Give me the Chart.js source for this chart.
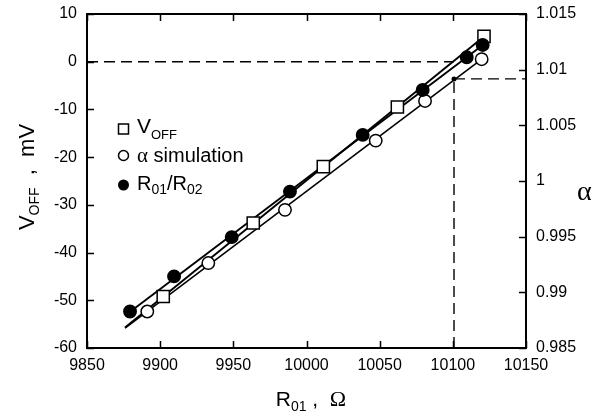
<!DOCTYPE html>
<html>
<head>
<meta charset="utf-8">
<script src="https://cdn.jsdelivr.net/npm/chart.js@4/dist/chart.umd.min.js"></script>
<style>
html,body{margin:0;padding:0;background:#fff;}
#wrap{width:613px;height:414px;position:relative;}
</style>
</head>
<body>
<div id="wrap"><canvas id="c" width="613" height="414"></canvas></div>
<script>
// ---- data ----
const xTicks = [9850, 9900, 9950, 10000, 10050, 10100, 10150];
const vTicks = [10, 0, -10, -20, -30, -40, -50, -60];
const aTicks = [1.015, 1.01, 1.005, 1, 0.995, 0.99, 0.985];

const vOffR = [9902.1, 9963.6, 10011.5, 10062.1, 10121.3];
const vOff = [-49.2, -33.8, -22.0, -9.5, 5.3];

const simR = [9891.2, 9932.9, 9985.3, 10047.3, 10081.0, 10119.7];
const simAlpha = [0.98828, 0.99263, 0.99741, 1.00363, 1.00719, 1.01094];

const ratioR = [9879.4, 9909.5, 9948.9, 9988.7, 10038.4, 10079.4, 10109.5, 10120.4];
const ratioAlpha = [0.98828, 0.99143, 0.99496, 0.99905, 1.00414, 1.00818, 1.01111, 1.01222];

// fitted straight lines (end points)
const vOffFitR = [9876, 10123];
const vOffFit = [-55.7, 5.7];
const simFitR = [9876, 10120];
const simFitAlpha = [0.98678, 1.01096];
const ratioFitR = [9877, 10123];
const ratioFitAlpha = [0.98800, 1.01247];

// construction (dashed) lines
const zeroLineR = [9850, 10100.5];
const zeroLineV = [0, 0];
const crossR = [10100.8, 10100.8];
const crossAlpha = [0.985, 1.00917];
const rightLineR = [10100.8, 10150];
const rightLineAlpha = [1.00917, 1.00917];
const markR = [10100.8];
const markAlpha = [1.00917];

const pts = (xs, ys) => xs.map((x, i) => ({x: x, y: ys[i]}));

const SANS = '"Liberation Sans", Arial, sans-serif';
const SERIF = '"Liberation Serif", "Times New Roman", serif';

const markerBase = {showLine:false, borderColor:'#000', borderWidth:1.5, pointHoverRadius:6};
const lineBase = {showLine:true, borderColor:'#000', pointRadius:0, pointHoverRadius:0, fill:false, tension:0};

const datasets = [
  Object.assign({}, markerBase, {label:'R01/R02', data:pts(ratioR, ratioAlpha), yAxisID:'y1', pointStyle:'circle', pointRadius:6.2, backgroundColor:'#000'}),
  Object.assign({}, markerBase, {label:'α simulation', data:pts(simR, simAlpha), yAxisID:'y1', pointStyle:'circle', pointRadius:6.2, backgroundColor:'#fff'}),
  Object.assign({}, markerBase, {label:'VOFF', data:pts(vOffR, vOff), yAxisID:'y', pointStyle:'rect', pointRadius:8.6, backgroundColor:'#fff'}),
  Object.assign({}, markerBase, {label:'mark', data:pts(markR, markAlpha), yAxisID:'y1', pointStyle:'circle', pointRadius:2.5, borderWidth:0, backgroundColor:'#000'}),
  Object.assign({}, lineBase, {label:'fitR', data:pts(ratioFitR, ratioFitAlpha), yAxisID:'y1', borderWidth:1.9}),
  Object.assign({}, lineBase, {label:'fitS', data:pts(simFitR, simFitAlpha), yAxisID:'y1', borderWidth:1.6}),
  Object.assign({}, lineBase, {label:'fitV', data:pts(vOffFitR, vOffFit), yAxisID:'y', borderWidth:1.9}),
  Object.assign({}, lineBase, {label:'d1', data:pts(zeroLineR, zeroLineV), yAxisID:'y', borderWidth:1.4, borderDash:[11,6]}),
  Object.assign({}, lineBase, {label:'d2', data:pts(crossR, crossAlpha), yAxisID:'y1', borderWidth:1.4, borderDash:[11,6]}),
  Object.assign({}, lineBase, {label:'d3', data:pts(rightLineR, rightLineAlpha), yAxisID:'y1', borderWidth:1.4, borderDash:[11,6]})
];

function drawSub(ctx, parts, x, y) {
  let cx = x;
  parts.forEach(p => {
    ctx.font = p[1] + 'px ' + (p[3] || SANS);
    ctx.fillText(p[0], cx, y + p[2]);
    cx += ctx.measureText(p[0]).width;
  });
  return cx - x;
}
function measureParts(ctx, parts) {
  let w = 0;
  parts.forEach(p => { ctx.font = p[1] + 'px ' + (p[3] || SANS); w += ctx.measureText(p[0]).width; });
  return w;
}

const decor = {
  id: 'decor',
  afterDraw(chart) {
    const ctx = chart.ctx;
    const a = chart.chartArea;
    const xs = chart.scales.x, yl = chart.scales.y, yr = chart.scales.y1;
    ctx.save();
    ctx.strokeStyle = '#000';
    ctx.fillStyle = '#000';
    ctx.lineWidth = 2;
    ctx.strokeRect(a.left, a.top, a.right - a.left, a.bottom - a.top);
    const TL = 7;
    ctx.lineWidth = 1.5;
    ctx.beginPath();
    xTicks.forEach(v => {
      const px = Math.round(xs.getPixelForValue(v)) + 0.5;
      ctx.moveTo(px, a.bottom); ctx.lineTo(px, a.bottom - TL);
      ctx.moveTo(px, a.top); ctx.lineTo(px, a.top + TL);
    });
    vTicks.forEach(v => {
      const py = Math.round(yl.getPixelForValue(v)) + 0.5;
      ctx.moveTo(a.left, py); ctx.lineTo(a.left + TL, py);
    });
    aTicks.forEach(v => {
      const py = Math.round(yr.getPixelForValue(v)) + 0.5;
      ctx.moveTo(a.right, py); ctx.lineTo(a.right - TL, py);
    });
    ctx.stroke();

    ctx.textAlign = 'left';
    ctx.textBaseline = 'alphabetic';
    const xt = [['R',21,0],['01',14,5],[' ,  ',21,0],['Ω',22,0,SERIF]];
    const xw = measureParts(ctx, xt);
    drawSub(ctx, xt, 311 - xw / 2, 406);
    const yt = [['V',22,0],['OFF',14,5],['  ,  mV',22,0]];
    const yw = measureParts(ctx, yt);
    ctx.save();
    ctx.translate(34, 177);
    ctx.rotate(-Math.PI / 2);
    drawSub(ctx, yt, -yw / 2, 0);
    ctx.restore();
    ctx.font = '28px ' + SERIF;
    ctx.fillText('α', 577, 200);

    ctx.lineWidth = 1.5;
    ctx.fillStyle = '#fff';
    ctx.fillRect(118.5, 124, 10, 10);
    ctx.strokeRect(118.5, 124, 10, 10);
    ctx.beginPath(); ctx.arc(123.5, 155.5, 5, 0, Math.PI * 2); ctx.fill(); ctx.stroke();
    ctx.fillStyle = '#000';
    ctx.beginPath(); ctx.arc(123.5, 185, 5.5, 0, Math.PI * 2); ctx.fill();
    drawSub(ctx, [['V',21,0],['OFF',13,6]], 137, 132.5);
    drawSub(ctx, [['α',21,0,SERIF],[' simulation',20,0]], 137, 162);
    drawSub(ctx, [['R',20,0],['01',14,4],['/R',20,0],['02',14,4]], 137, 190);
    ctx.restore();
  }
};

const fitV = s => { s.width = 87; s.paddingTop = 0; s.paddingBottom = 0; };

new Chart(document.getElementById('c'), {
  type: 'scatter',
  data: {datasets: datasets},
  options: {
    responsive: false,
    animation: false,
    devicePixelRatio: 1,
    layout: {padding: {top: 14, left: 0, right: 0, bottom: 0}},
    plugins: {legend: {display: false}, tooltip: {enabled: false}},
    scales: {
      x: {
        type: 'linear', position: 'bottom', min: 9850, max: 10150,
        afterBuildTicks: s => { s.ticks = xTicks.map(v => ({value: v})); },
        afterFit: s => { s.height = 66; s.paddingLeft = 0; s.paddingRight = 0; },
        grid: {display: false, drawTicks: false},
        border: {display: false},
        ticks: {color: '#000', padding: 8, font: {family: SANS, size: 16}, maxRotation: 0, callback: v => String(v)}
      },
      y: {
        type: 'linear', position: 'left', min: -60, max: 10,
        afterBuildTicks: s => { s.ticks = vTicks.map(v => ({value: v})); },
        afterFit: fitV,
        grid: {display: false, drawTicks: false},
        border: {display: false},
        ticks: {color: '#000', padding: 10, font: {family: SANS, size: 16}, callback: v => String(v)}
      },
      y1: {
        type: 'linear', position: 'right', min: 0.985, max: 1.015,
        afterBuildTicks: s => { s.ticks = aTicks.map(v => ({value: v})); },
        afterFit: fitV,
        grid: {display: false, drawTicks: false},
        border: {display: false},
        ticks: {color: '#000', padding: 10, font: {family: SANS, size: 16}, callback: v => String(parseFloat(Number(v).toFixed(3)))}
      }
    }
  },
  plugins: [decor]
});
</script>
</body>
</html>
